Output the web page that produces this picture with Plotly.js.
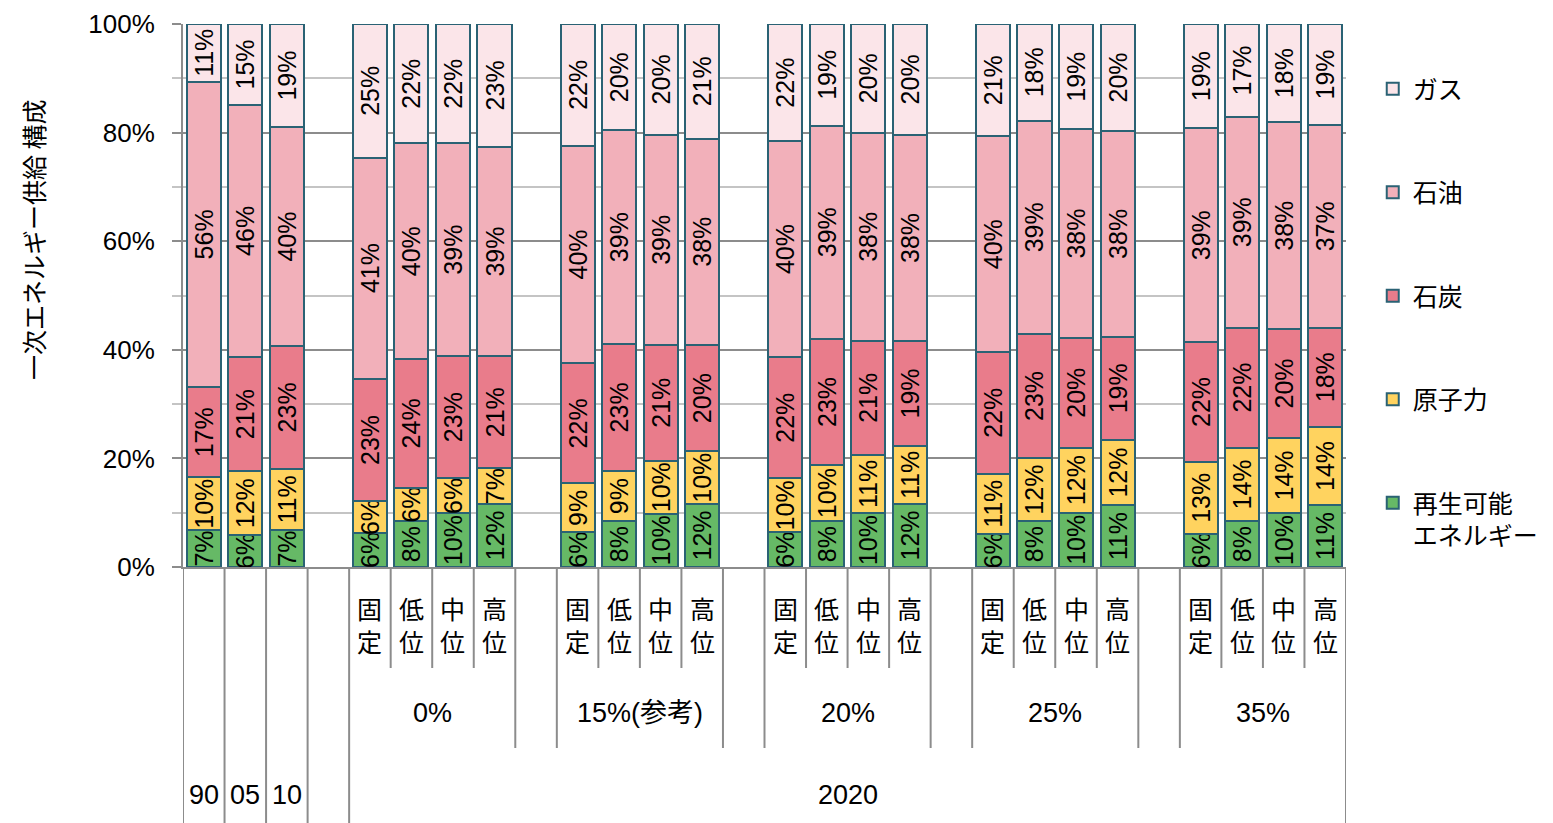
<!DOCTYPE html>
<html>
<head>
<meta charset="utf-8">
<script src="https://cdn.plot.ly/plotly-3.0.1.min.js"></script>
<style>
html,body{margin:0;padding:0;background:#fff;}
#chart{width:1553px;height:823px;}
</style>
</head>
<body>
<div id="chart"></div>
<script>
// ---- data ----
const years = ['90', '05', '10'];
const cases = ['0%', '15%(参考)', '20%', '25%', '35%'];
const variants = ['固定', '低位', '中位', '高位'];
const scenarioYear = '2020';
const seriesNames = ['再生可能<br>エネルギー', '原子力', '石炭', '石油', 'ガス'];

const renewable = [6.8, 5.9, 6.8, 6.3, 8.4, 9.9, 11.6, 6.4, 8.4, 9.8, 11.6, 6.4, 8.4, 9.9, 11.6, 6.1, 8.4, 10.0, 11.4, 6.1, 8.4, 9.9, 11.4];
const nuclear = [9.7, 11.7, 11.3, 5.8, 6.2, 6.4, 6.6, 9.0, 9.3, 9.8, 9.7, 9.9, 10.4, 10.8, 10.7, 11.1, 11.7, 12.0, 12.0, 13.3, 13.6, 13.9, 14.4];
const coal = [16.6, 21.1, 22.6, 22.6, 23.7, 22.6, 20.6, 22.1, 23.4, 21.3, 19.6, 22.4, 23.2, 20.9, 19.3, 22.4, 22.8, 20.2, 19.0, 22.0, 22.1, 20.0, 18.3];
const oil = [56.3, 46.4, 40.3, 40.7, 39.7, 39.1, 38.6, 40.1, 39.3, 38.7, 38.0, 39.7, 39.3, 38.4, 38.0, 39.7, 39.3, 38.4, 37.9, 39.4, 38.8, 38.1, 37.3];
const gas = [10.6, 14.9, 19.0, 24.6, 22.0, 22.0, 22.6, 22.4, 19.6, 20.4, 21.1, 21.6, 18.7, 20.0, 20.4, 20.7, 17.8, 19.4, 19.7, 19.2, 17.1, 18.1, 18.6];
const yTicks = [0, 20, 40, 60, 80, 100];
const yTickText = ['0%', '20%', '40%', '60%', '80%', '100%'];

// ---- build categories ----
const barCats = years.slice();
const axisCats = years.slice();
axisCats.push('gap0');
cases.forEach((c, ci) => {
  variants.forEach(v => { barCats.push(c + v); axisCats.push(c + v); });
  if (ci < cases.length - 1) axisCats.push('gap' + (ci + 1));
});

const colors = ['#66B966', '#FFD35F', '#E97C8B', '#F2B0BA', '#FBE5E9'];
const seriesData = [renewable, nuclear, coal, oil, gas];
const FONT = 'Liberation Sans, Arial, Noto Sans CJK JP, sans-serif';
const EDGE = '#2A6274';

const traces = seriesData.map((vals, i) => ({
  type: 'bar',
  name: seriesNames[i],
  x: barCats,
  y: vals,
  legendgroup: 'g' + i,
  legendrank: 100 - i,
  marker: { color: colors[i], line: { color: EDGE, width: 2 } },
  texttemplate: '%{y:.0f}%',
  textposition: 'inside',
  insidetextanchor: 'middle',
  textangle: -90,
  constraintext: 'none',
  textfont: { family: FONT, size: 25, color: '#000' },
  hoverinfo: 'x+y+name'
}));

// ---- multi-level axis: separators and labels ----
const GRAY = '#8c8c8c';
const plotH = 543;
const py = p => (567 - p) / plotH; // pixel -> paper y
const shapes = [];
const nCat = axisCats.length;
for (let b = 0; b <= nCat; b++) {
  const xb = b - 0.5;
  let bottom;
  const left = axisCats[b - 1], right = axisCats[b];
  const isGap = c => c && c.startsWith('gap');
  if (b <= 4 || b === nCat) bottom = 823;
  else if (isGap(left) || isGap(right)) bottom = 748;
  else bottom = 668;
  shapes.push({ type: 'line', xref: 'x', yref: 'paper', x0: xb, x1: xb, y0: 0, y1: py(bottom),
    line: { color: GRAY, width: 2 } });
}

const annotations = [];
const ann = (x, y, text, size, extra) => Object.assign({ x: x, y: y, xref: 'x', yref: 'paper', text: text,
  showarrow: false, xanchor: 'center', yanchor: 'middle',
  font: { family: FONT, size: size, color: '#000' } }, extra || {});
// row 3: years and 2020
years.forEach((yv, i) => annotations.push(ann(i, py(795), yv, 27)));
const firstCase = axisCats.indexOf(cases[0] + variants[0]);
annotations.push(ann((firstCase + nCat - 1) / 2, py(795), scenarioYear, 27));
// rows 1-2
cases.forEach(c => {
  const idx = variants.map(v => axisCats.indexOf(c + v));
  annotations.push(ann((idx[0] + idx[3]) / 2, py(713), c, 27));
  variants.forEach((v, k) => annotations.push(ann(idx[k], py(624), v.split('').join('<br>'), 25,
    { font: { family: 'Noto Sans CJK JP, sans-serif', size: 25, color: '#000' } })));
});
// y-axis title
annotations.push({ x: (33 - 183) / 1163, y: py(240), xref: 'paper', yref: 'paper', text: '一次エネルギー供給 構成',
  xanchor: 'center', yanchor: 'middle',
  textangle: -90, showarrow: false, font: { family: 'Noto Sans CJK JP, sans-serif', size: 25, color: '#000' } });

const layout = {
  width: 1553, height: 823,
  margin: { l: 183, r: 207, t: 24, b: 256, autoexpand: false },
  paper_bgcolor: '#fff', plot_bgcolor: '#fff',
  barmode: 'stack',
  bargap: 0.18,
  showlegend: true,
  legend: {
    x: 1.023, xanchor: 'left', y: py(66), yanchor: 'top',
    traceorder: 'grouped', tracegroupgap: 68, valign: 'top',
    font: { family: FONT, size: 25, color: '#000' },
    bgcolor: 'rgba(0,0,0,0)'
  },
  xaxis: {
    type: 'category', categoryorder: 'array', categoryarray: axisCats,
    range: [-0.5, nCat - 0.5], showticklabels: false, ticks: '',
    showline: true, linecolor: GRAY, linewidth: 2, showgrid: false, fixedrange: true
  },
  yaxis: {
    range: [0, 100], tickmode: 'array', tickvals: yTicks, ticktext: yTickText,
    ticks: 'outside', ticklen: 9, tickwidth: 2, tickcolor: GRAY, ticklabelstandoff: 12,
    showline: true, linecolor: GRAY, linewidth: 2,
    showgrid: true, gridcolor: GRAY, gridwidth: 2, zeroline: false,
    minor: { dtick: 10, tick0: 0, showgrid: true, gridcolor: '#c4c4c4', gridwidth: 2,
      ticks: 'outside', ticklen: 9, tickcolor: '#c4c4c4' },
    tickfont: { family: FONT, size: 26, color: '#000' }, fixedrange: true
  },
  shapes: shapes,
  annotations: annotations
};

Plotly.newPlot('chart', traces, layout, { displayModeBar: false, staticPlot: true });
</script>
</body>
</html>
